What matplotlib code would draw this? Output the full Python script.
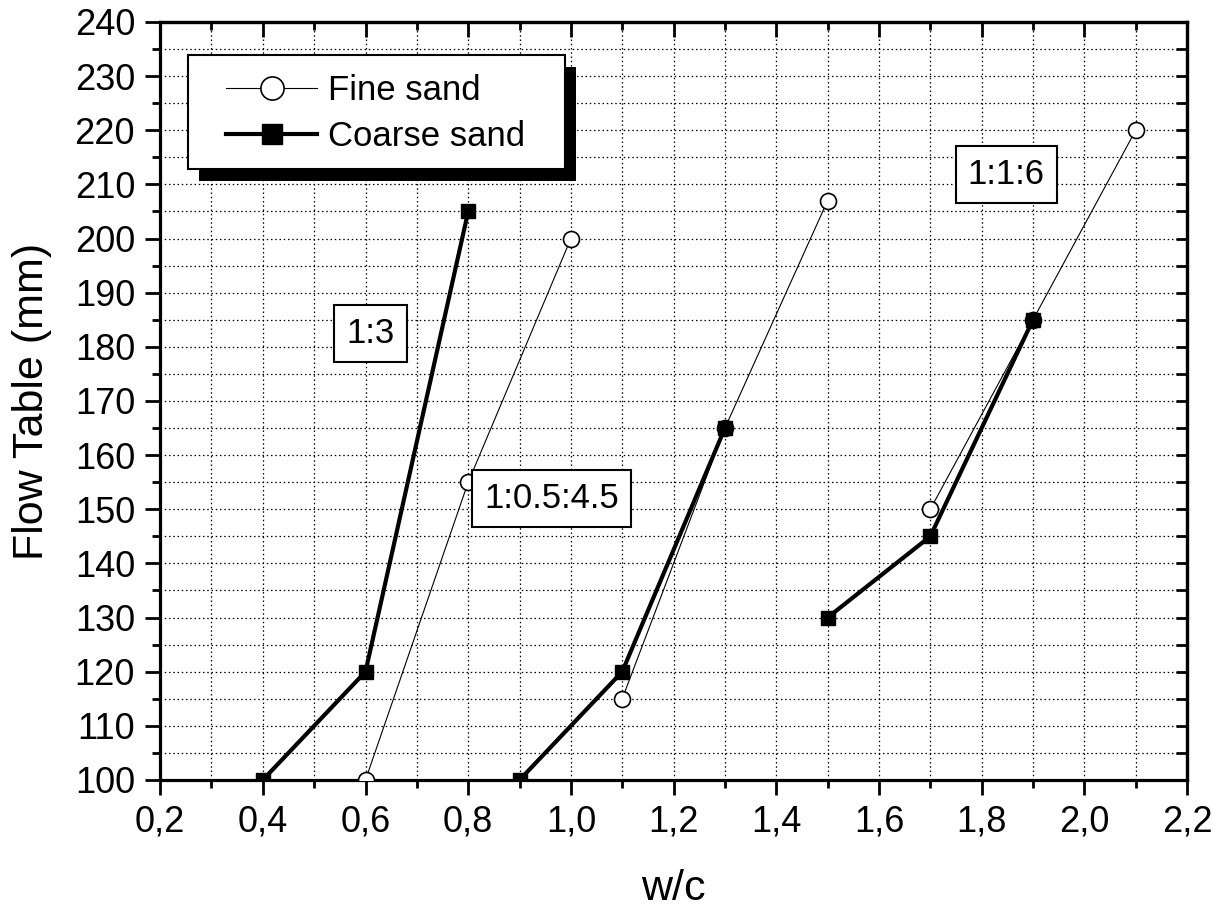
import matplotlib
matplotlib.use('Agg')
import matplotlib.pyplot as plt
import numpy as np
from matplotlib.ticker import MultipleLocator, FuncFormatter
from matplotlib.patches import Rectangle

plt.rcParams['font.family'] = ['Liberation Sans', 'DejaVu Sans']

# Data (NaN separates the three mix groups)
nan = np.nan
fine_wc = [0.6, 0.8, 1.0, nan, 1.1, 1.3, 1.5, nan, 1.7, 1.9, 2.1]
fine_flow = [100, 155, 200, nan, 115, 165, 207, nan, 150, 185, 220]
coarse_wc = [0.4, 0.6, 0.8, nan, 0.9, 1.1, 1.3, nan, 1.5, 1.7, 1.9]
coarse_flow = [100, 120, 205, nan, 100, 120, 165, nan, 130, 145, 185]

mix_labels = ['1:3', '1:0.5:4.5', '1:1:6']
mix_x = [0.61, 0.963, 1.848]
mix_y = [182.5, 152, 211.8]

fig = plt.figure(figsize=(12.13, 9.16), dpi=100)
ax = fig.add_axes([0.132, 0.1485, 0.8466, 0.8275])

ax.plot(fine_wc, fine_flow, color='black', linewidth=0.8, marker='o',
        markersize=11.5, markerfacecolor='white', markeredgecolor='black',
        markeredgewidth=1.2, label='Fine sand', zorder=3)
ax.plot(coarse_wc, coarse_flow, color='black', linewidth=3, marker='s',
        markersize=10, markerfacecolor='black', markeredgecolor='black',
        label='Coarse sand', zorder=4)

ax.set_xlim(0.2, 2.2)
ax.set_ylim(100, 240)
ax.xaxis.set_major_locator(MultipleLocator(0.2))
ax.xaxis.set_minor_locator(MultipleLocator(0.1))
ax.yaxis.set_major_locator(MultipleLocator(10))
ax.yaxis.set_minor_locator(MultipleLocator(5))
ax.xaxis.set_major_formatter(FuncFormatter(lambda v, p: f'{v:.1f}'.replace('.', ',')))
ax.yaxis.set_major_formatter(FuncFormatter(lambda v, p: f'{v:.0f}'))

ax.grid(True, which='both', linestyle=(0, (1.2, 2.2)), color='black', linewidth=0.9)
ax.set_axisbelow(True)

for s in ax.spines.values():
    s.set_linewidth(2.3)

ax.tick_params(which='major', direction='out', length=11, width=2, labelsize=26, pad=7)
ax.tick_params(which='minor', direction='out', length=6, width=2)

# top and right ticks point inward, no labels
top = ax.secondary_xaxis('top')
top.xaxis.set_major_locator(MultipleLocator(0.2))
top.xaxis.set_minor_locator(MultipleLocator(0.1))
top.tick_params(which='major', direction='in', length=11, width=2, labeltop=False)
top.tick_params(which='minor', direction='in', length=6, width=2)
right = ax.secondary_yaxis('right')
right.yaxis.set_major_locator(MultipleLocator(10))
right.yaxis.set_minor_locator(MultipleLocator(5))
right.tick_params(which='both', direction='in', length=8, width=2, labelright=False)
for sec in (top, right):
    for s in sec.spines.values():
        s.set_linewidth(2.3)

ax.set_xlabel('w/c', fontsize=31, labelpad=21)
ax.set_ylabel('Flow Table (mm)', fontsize=31, labelpad=16)

for lab, x, y in zip(mix_labels, mix_x, mix_y):
    ax.text(x, y, lab, fontsize=25, ha='center', va='center', zorder=5,
            bbox=dict(boxstyle='square,pad=0.35', facecolor='white',
                      edgecolor='black', linewidth=1.5))

# legend frame with solid black drop shadow (drawn by hand for Origin-like padding)
ax.add_patch(Rectangle((0.0380, 0.7906), 0.367, 0.150, transform=ax.transAxes,
                       facecolor='black', edgecolor='none', zorder=6, clip_on=False))
ax.add_patch(Rectangle((0.0273, 0.8065), 0.367, 0.150, transform=ax.transAxes,
                       facecolor='white', edgecolor='black', linewidth=1.5,
                       zorder=6.1, clip_on=False))
leg = ax.legend(loc='upper left', bbox_to_anchor=(0.0643, 0.931), borderaxespad=0,
                borderpad=0, fontsize=25, frameon=False, handlelength=2.62,
                labelspacing=0.36, handletextpad=0.3, markerscale=1.45)
leg.set_zorder(7)

fig.savefig('out.png', dpi=100)
plt.close(fig)
